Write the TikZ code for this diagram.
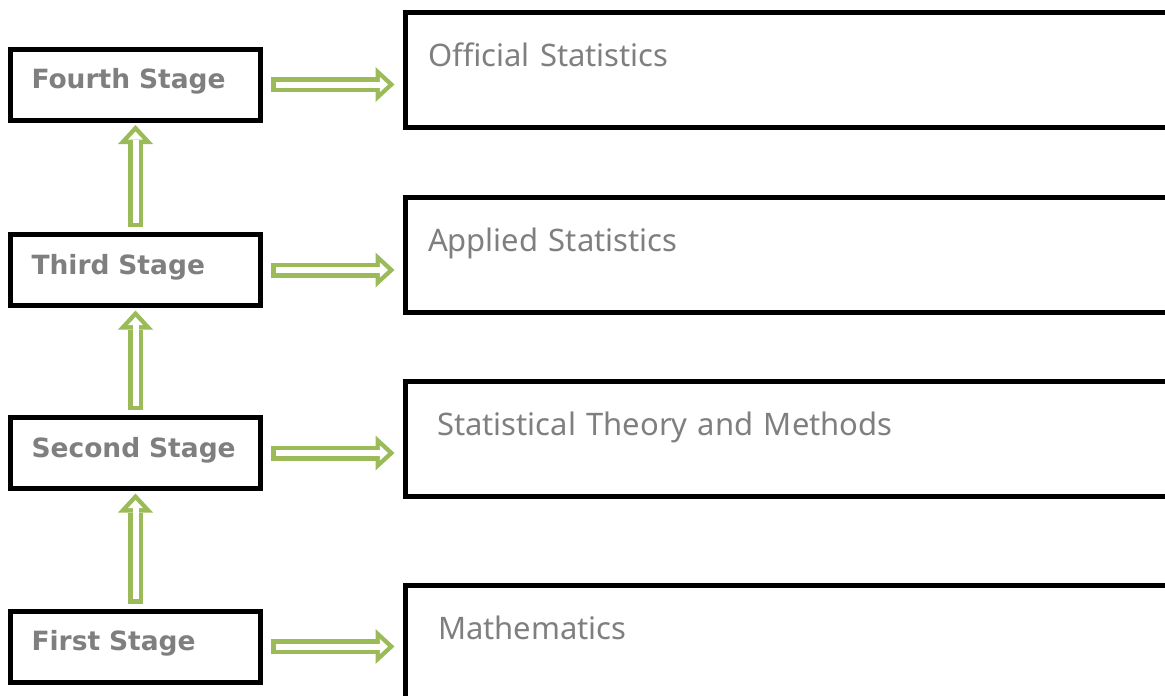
\documentclass[tikz,border=0pt]{standalone}
\usepackage{fontspec}
\setmainfont{Noto Sans}
\newfontfamily\stagefont{DejaVu Sans}
\usetikzlibrary{positioning,arrows.meta}
\definecolor{leaf}{HTML}{9BBB59}
\definecolor{ink}{HTML}{7F7F7F}

\begin{document}
\begin{tikzpicture}[x=1pt,y=-1pt,
    stage/.style={draw,line width=5pt,minimum width=250pt,minimum height=71pt,inner xsep=21pt,text width=208pt,align=left,text height=20pt,text depth=12pt,text=ink,font=\stagefont\fontsize{26.5}{34}\selectfont\bfseries},
    field/.style={draw,line width=5pt,minimum width=900pt,minimum height=115pt,inner xsep=23pt,text width=854pt,align=left,text height=22pt,text depth=29pt,text=ink,font=\fontsize{31}{36}\selectfont},
    flow/.style={draw=leaf,line width=15pt,shorten <=8pt,shorten >=8pt,-{Triangle[length=19pt,width=35pt,line width=0pt]}},
    flowin/.style={draw=white,line width=6pt,shorten <=12.5pt,shorten >=14.6pt,-{Triangle[length=8pt,width=15pt,line width=0pt]}}]
        \clip (0,0) rectangle (1165,696);

        \node[stage] (s4) at (135.5,84.5) {Fourth Stage};
        \node[stage] (s3) at (135.5,270) {Third Stage};
        \node[stage] (s2) at (135.5,453) {Second Stage};
        \node[stage] (s1) at (135.5,646.5) {First Stage};

        \node[field] (o4) at (855,70) {Official Statistics};
        \node[field] (o3) at (855,255) {Applied Statistics};
        \node[field,inner xsep=32pt,text width=836pt] (o2) at (855,438.75) {Statistical Theory and Methods};
        \node[field,inner xsep=33pt,text width=834pt] (o1) at (855,643) {Mathematics};

        \draw[flow] (s4.east) -- (s4.east -| o4.west);
        \draw[flowin] (s4.east) -- (s4.east -| o4.west);
        \draw[flow] (s3.east) -- (s3.east -| o3.west);
        \draw[flowin] (s3.east) -- (s3.east -| o3.west);
        \draw[flow] (s2.east) -- (s2.east -| o2.west);
        \draw[flowin] (s2.east) -- (s2.east -| o2.west);
        \draw[flow] (s1.east) -- (s1.east -| o1.west);
        \draw[flowin] (s1.east) -- (s1.east -| o1.west);

        \draw[flow,shorten <=5pt,shorten >=2.5pt] (s1.north) -- (s2.south);
        \draw[flowin,shorten <=9.5pt,shorten >=9.1pt] (s1.north) -- (s2.south);
        \draw[flow,shorten <=5pt,shorten >=2.5pt] (s2.north) -- (s3.south);
        \draw[flowin,shorten <=9.5pt,shorten >=9.1pt] (s2.north) -- (s3.south);
        \draw[flow,shorten <=5pt,shorten >=2.5pt] (s3.north) -- (s4.south);
        \draw[flowin,shorten <=9.5pt,shorten >=9.1pt] (s3.north) -- (s4.south);
    \end{tikzpicture}
\end{document}
